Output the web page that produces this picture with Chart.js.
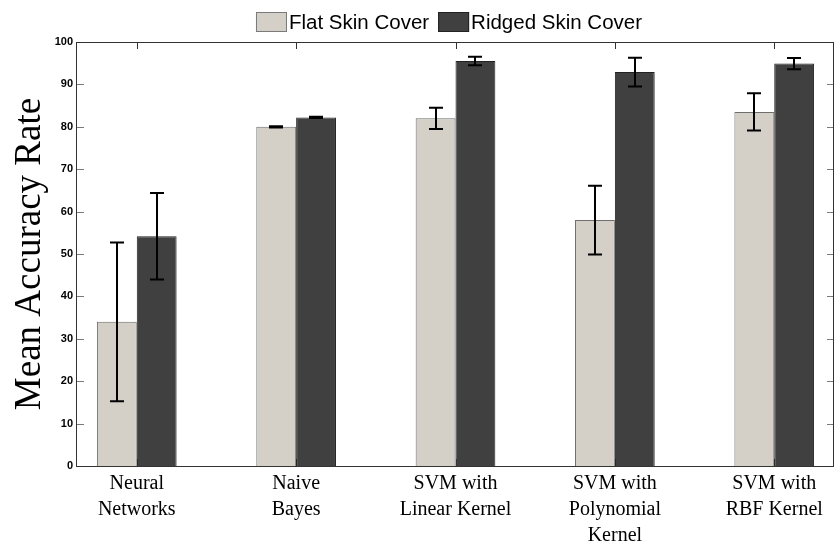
<!DOCTYPE html>
<html><head><meta charset="utf-8">
<script src="https://cdn.jsdelivr.net/npm/chart.js@4.4.1/dist/chart.umd.min.js"></script>
<style>html,body{margin:0;padding:0;background:#fff;}#wrap{width:837px;height:543px;}</style>
</head><body><div id="wrap"><canvas id="c" width="837" height="543"></canvas></div>
<script>
const categories = [["Neural","Networks"],["Naive","Bayes"],["SVM with","Linear Kernel"],["SVM with","Polynomial","Kernel"],["SVM with","RBF Kernel"]];
const seriesNames = ["Flat Skin Cover","Ridged Skin Cover"];
const flatMeans = [34.0, 80.0, 82.0, 58.0, 83.5];
const flatErrors = [18.7, 0.15, 2.5, 8.1, 4.4];
const ridgedMeans = [54.2, 82.2, 95.5, 92.9, 94.9];
const ridgedErrors = [10.2, 0.15, 1.0, 3.4, 1.3];
const yTicks = [0,10,20,30,40,50,60,70,80,90,100];
const yTitle = "Mean Accuracy Rate";

const errorsBySeries = [flatErrors, ridgedErrors];
const meansBySeries = [flatMeans, ridgedMeans];

const framePlugin = {
  id: 'frame',
  beforeDatasetsDraw(chart) {
    const {ctx, chartArea: a, scales: {x, y}} = chart;
    ctx.save();
    ctx.lineWidth = 1;
    ctx.strokeStyle = '#7a7a7a';
    yTicks.forEach(v => {
      if (v === yTicks[0] || v === yTicks[yTicks.length-1]) return;
      const py = Math.round(y.getPixelForValue(v)) + 0.5;
      ctx.beginPath();
      ctx.moveTo(a.left, py); ctx.lineTo(a.left + 7, py);
      ctx.moveTo(a.right, py); ctx.lineTo(a.right - 7, py);
      ctx.stroke();
    });
    ctx.strokeStyle = '#333';
    categories.forEach((c, i) => {
      const px = Math.round(x.getPixelForValue(i + 1)) + 0.5;
      ctx.beginPath();
      ctx.moveTo(px, a.top); ctx.lineTo(px, a.top + 7);
      ctx.moveTo(px, a.bottom); ctx.lineTo(px, a.bottom - 7);
      ctx.stroke();
    });
    ctx.restore();
  },
  afterDatasetsDraw(chart) {
    const {ctx, chartArea: a, scales: {y}} = chart;
    ctx.save();
    ctx.strokeStyle = '#000';
    ctx.lineWidth = 2;
    chart.data.datasets.forEach((ds, di) => {
      const meta = chart.getDatasetMeta(di);
      meta.data.forEach((bar, i) => {
        const m = meansBySeries[di][i], e = errorsBySeries[di][i];
        const yHi = y.getPixelForValue(m + e), yLo = y.getPixelForValue(m - e);
        const cx = Math.round(bar.x);
        ctx.beginPath();
        ctx.moveTo(cx, yHi); ctx.lineTo(cx, yLo);
        ctx.moveTo(cx - 7, yHi); ctx.lineTo(cx + 7, yHi);
        ctx.moveTo(cx - 7, yLo); ctx.lineTo(cx + 7, yLo);
        ctx.stroke();
      });
    });
    ctx.lineWidth = 1;
    ctx.strokeStyle = '#333';
    ctx.strokeRect(Math.round(a.left) - 0.5, Math.round(a.top) + 0.5, Math.round(a.right - a.left), Math.round(a.bottom - a.top));
    ctx.restore();
  },
  afterDraw(chart) {
    const ctx = chart.ctx;
    ctx.save();
    ctx.font = '20.5px "Liberation Sans", Arial, sans-serif';
    ctx.textBaseline = 'middle';
    ctx.textAlign = 'left';
    const box = 31, gap = 2, sep = 9, boxH = 20, topY = 12;
    const widths = seriesNames.map(n => ctx.measureText(n).width);
    const total = box * 2 + gap * 2 + widths[0] + widths[1] + sep;
    let xPos = 449 - total / 2;
    chart.data.datasets.forEach((ds, i) => {
      ctx.fillStyle = ds.backgroundColor;
      ctx.fillRect(xPos, topY, box, boxH);
      ctx.strokeStyle = i === 0 ? '#7a7a7a' : '#222';
      ctx.lineWidth = 1;
      ctx.strokeRect(xPos + 0.5, topY + 0.5, box - 1, boxH - 1);
      xPos += box + gap;
      ctx.fillStyle = '#000';
      ctx.fillText(seriesNames[i], xPos, topY + boxH / 2 + 1);
      xPos += widths[i] + sep;
    });
    ctx.restore();
  }
};

new Chart(document.getElementById('c'), {
  type: 'bar',
  data: {
    datasets: [
      { label: seriesNames[0], data: flatMeans.map((v, i) => ({x: i + 1, y: v})),
        backgroundColor: '#d4d0c8', borderColor: '#6e6e6e', borderWidth: 1,
        categoryPercentage: 0.5, barPercentage: 1 },
      { label: seriesNames[1], data: ridgedMeans.map((v, i) => ({x: i + 1, y: v})),
        backgroundColor: '#404040', borderColor: '#222222', borderWidth: 1,
        categoryPercentage: 0.5, barPercentage: 1 }
    ]
  },
  options: {
    responsive: false, animation: false, devicePixelRatio: 1,
    layout: { padding: { top: 42, right: 3, left: 0, bottom: 0 } },
    plugins: { legend: { display: false }, tooltip: { enabled: false } },
    scales: {
      x: {
        type: 'linear', min: 0.625, max: 5.375, offset: false,
        grid: { display: false, drawTicks: false }, border: { display: false },
        afterBuildTicks: s => { s.ticks = categories.map((c, i) => ({ value: i + 1 })); },
        afterFit: s => { s.height = 77; },
        ticks: {
          autoSkip: false, maxRotation: 0, minRotation: 0, padding: 5, color: '#000',
          font: { family: '"Liberation Serif", "Times New Roman", serif', size: 20, lineHeight: '26px' },
          callback: (v) => categories[Math.round(v) - 1]
        }
      },
      y: {
        min: 0, max: 100,
        afterBuildTicks: s => { s.ticks = yTicks.map(v => ({ value: v })); },
        afterFit: s => { s.width = 77; },
        grid: { display: false, drawTicks: false }, border: { display: false },
        ticks: { padding: 4, color: '#000', font: { family: '"Liberation Sans", Arial, sans-serif', size: 11, weight: 'bold' } },
        title: { display: true, text: yTitle, color: '#000',
          font: { family: '"Liberation Serif", "Times New Roman", serif', size: 37 },
          padding: { top: 8, bottom: 0 } }
      }
    }
  },
  plugins: [framePlugin]
});
</script>
</body></html>
